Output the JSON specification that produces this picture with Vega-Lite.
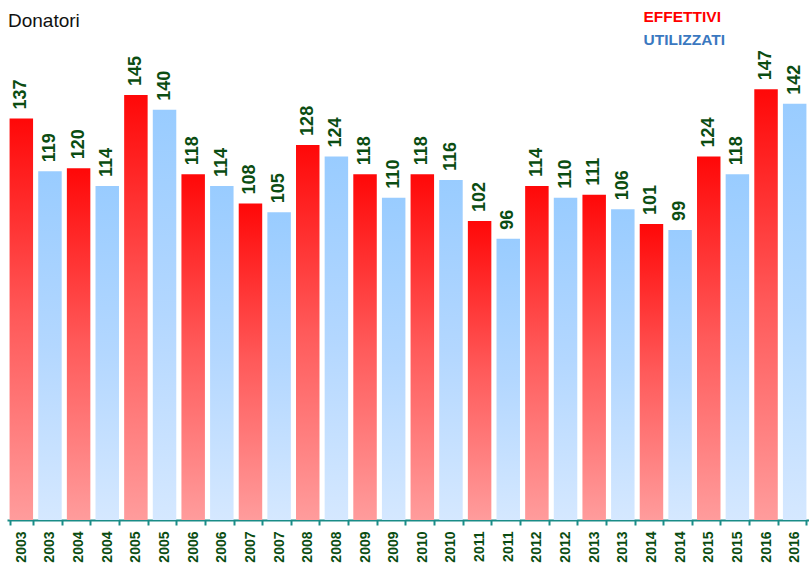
{
  "$schema": "https://vega.github.io/schema/vega-lite/v6.json",
  "width": 802,
  "height": 485,
  "autosize": {"type": "none"},
  "padding": {"left": 7, "top": 35, "right": 0, "bottom": 46},
  "background": "white",
  "config": {"view": {"stroke": null}},
  "title": {"text": "Donatori", "anchor": "start", "frame": "group", "font": "Liberation Sans", "fontSize": 19, "fontWeight": "normal", "color": "#111111", "offset": 4, "dx": 1, "dy": 26},
  "data": {"values": [
    {"k": "2003E", "serie": "EFFETTIVI", "v": 137}, {"k": "2003U", "serie": "UTILIZZATI", "v": 119},
    {"k": "2004E", "serie": "EFFETTIVI", "v": 120}, {"k": "2004U", "serie": "UTILIZZATI", "v": 114},
    {"k": "2005E", "serie": "EFFETTIVI", "v": 145}, {"k": "2005U", "serie": "UTILIZZATI", "v": 140},
    {"k": "2006E", "serie": "EFFETTIVI", "v": 118}, {"k": "2006U", "serie": "UTILIZZATI", "v": 114},
    {"k": "2007E", "serie": "EFFETTIVI", "v": 108}, {"k": "2007U", "serie": "UTILIZZATI", "v": 105},
    {"k": "2008E", "serie": "EFFETTIVI", "v": 128}, {"k": "2008U", "serie": "UTILIZZATI", "v": 124},
    {"k": "2009E", "serie": "EFFETTIVI", "v": 118}, {"k": "2009U", "serie": "UTILIZZATI", "v": 110},
    {"k": "2010E", "serie": "EFFETTIVI", "v": 118}, {"k": "2010U", "serie": "UTILIZZATI", "v": 116},
    {"k": "2011E", "serie": "EFFETTIVI", "v": 102}, {"k": "2011U", "serie": "UTILIZZATI", "v": 96},
    {"k": "2012E", "serie": "EFFETTIVI", "v": 114}, {"k": "2012U", "serie": "UTILIZZATI", "v": 110},
    {"k": "2013E", "serie": "EFFETTIVI", "v": 111}, {"k": "2013U", "serie": "UTILIZZATI", "v": 106},
    {"k": "2014E", "serie": "EFFETTIVI", "v": 101}, {"k": "2014U", "serie": "UTILIZZATI", "v": 99},
    {"k": "2015E", "serie": "EFFETTIVI", "v": 124}, {"k": "2015U", "serie": "UTILIZZATI", "v": 118},
    {"k": "2016E", "serie": "EFFETTIVI", "v": 147}, {"k": "2016U", "serie": "UTILIZZATI", "v": 142}
  ]},
  "encoding": {
    "x": {
      "field": "k", "type": "nominal", "sort": null,
      "scale": {"paddingInner": 0.18, "paddingOuter": 0.09},
      "axis": {
        "title": null, "labelExpr": "datum.value ? substring(datum.value, 0, 4) : ''",
        "labelAngle": 270, "labelAlign": "right", "labelBaseline": "middle",
        "labelFont": "Liberation Sans", "labelFontSize": 14, "labelFontWeight": "bold",
        "labelColor": "#0b4d12", "labelPadding": 6, "labelOverlap": false,
        "domainColor": "#1a8c87", "domainWidth": 2,
        "tickColor": "#1a8c87", "tickWidth": 2, "tickSize": 5, "tickBand": "extent",
        "grid": false
      }
    },
    "y": {"field": "v", "type": "quantitative", "scale": {"domain": [0, 165.5], "nice": false, "zero": true}, "axis": null}
  },
  "layer": [
    {
      "mark": {"type": "bar", "strokeWidth": 0},
      "encoding": {
        "fill": {
          "condition": {
            "test": "datum.serie === 'EFFETTIVI'",
            "value": {"gradient": "linear", "x1": 0, "y1": 0, "x2": 0, "y2": 1, "stops": [{"offset": 0, "color": "#ff0808"}, {"offset": 0.5, "color": "#ff5a5a"}, {"offset": 1, "color": "#ff9c9c"}]}
          },
          "value": {"gradient": "linear", "x1": 0, "y1": 0, "x2": 0, "y2": 1, "stops": [{"offset": 0, "color": "#99ccff"}, {"offset": 0.5, "color": "#b3d7ff"}, {"offset": 1, "color": "#d5e8ff"}]}
        },
        "stroke": {
          "field": "serie", "type": "nominal",
          "scale": {"domain": ["EFFETTIVI", "UTILIZZATI"], "range": ["#ff0000", "#3a78c0"]},
          "legend": {
            "orient": "none", "legendX": 621, "legendY": -26, "title": null,
            "symbolSize": 0, "symbolOpacity": 0, "symbolStrokeWidth": 0,
            "labelFont": "Liberation Sans", "labelFontSize": 15.5, "labelFontWeight": "bold",
            "labelOffset": 0, "rowPadding": 6.5,
            "labelColor": {"expr": "datum.value === 'EFFETTIVI' ? '#ff0000' : '#3a78c0'"}
          }
        }
      }
    },
    {
      "mark": {"type": "text", "angle": 270, "align": "left", "baseline": "middle", "yOffset": -9, "font": "Liberation Sans", "fontSize": 18, "fontWeight": "bold", "color": "#0b4d12"},
      "encoding": {
        "text": {"field": "v", "type": "quantitative"}
      }
    }
  ]
}
